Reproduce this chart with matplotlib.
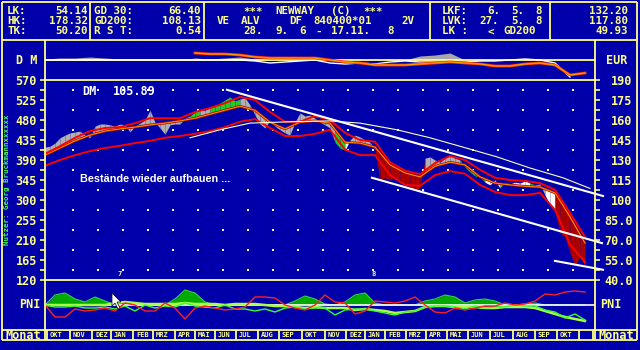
import numpy as np
import matplotlib
matplotlib.use("Agg")
import matplotlib.pyplot as plt
from matplotlib.lines import Line2D
from matplotlib.patches import Polygon
from matplotlib.ticker import FixedLocator, FuncFormatter

plt.rcParams['font.family'] = ['DejaVu Sans Mono']
plt.rcParams['font.weight'] = 'bold'

# ---------------- data ----------------
hdr_col1_labels = ['LK:', 'HK:', 'TK:']
hdr_col1_values = ['54.14', '178.32', '50.20']
hdr_col2_labels = ['GD 30:', 'GD200:', 'R S T:']
hdr_col2_values = ['66.40', '108.13', '0.54']
hdr_title_rows = [[('***', 243), ('NEWWAY', 275), ('(C)', 331), ('***', 363)],
                  [('VE', 217), ('ALV', 241), ('DF', 289), ('840400*01', 313), ('2V', 401)],
                  [('28.', 243), ('9.', 275), ('6', 299), ('-', 315), ('17.11.', 331), ('8', 387)]]
hdr_col4_labels = ['LKF:', 'LVK:', 'LK :']
hdr_col4_values = [[('6.', 487), ('5.', 511), ('8', 535)],
                   [('27.', 479), ('5.', 511), ('8', 535)],
                   [('<', 487), ('GD200', 503)]]
hdr_col5_values = ['132.20', '117.80', '49.93']

month_labels = ['OKT', 'NOV', 'DEZ', 'JAN', 'FEB', 'MRZ', 'APR', 'MAI', 'JUN', 'JUL', 'AUG', 'SEP',
                'OKT', 'NOV', 'DEZ', 'JAN', 'FEB', 'MRZ', 'APR', 'MAI', 'JUN', 'JUL', 'AUG', 'SEP', 'OKT', '']
month_start = [2, 25, 47, 66, 88, 108, 130, 150, 170, 191, 213, 234, 257, 280, 301, 320,
               340, 361, 381, 402, 423, 445, 468, 490, 512, 534]
month_end = 548
year_marks = [('7', 66), ('8', 320)]

# price (DM), one value every 5 trading days
price_step = 5
price = [419, 421, 428, 440, 446, 451, 453, 455, 446, 440,
         466, 471, 471, 469, 466, 471, 469, 453, 466, 473,
         480, 502, 475, 462, 448, 469, 471, 471, 484, 489,
         498, 502, 502, 507, 511, 518, 525, 532, 523, 527,
         530, 514, 491, 471, 462, 480, 466, 458, 451, 446,
         475, 496, 489, 491, 484, 475, 469, 462, 430, 417,
         412, 435, 446, 442, 435, 430, 414, 345, 350, 345,
         352, 340, 334, 329, 322, 327, 394, 397, 390, 385,
         394, 401, 394, 390, 374, 363, 354, 352, 340, 334,
         345, 327, 340, 336, 340, 338, 343, 338, 334, 336,
         311, 289, 277, 226, 217, 181, 154, 172, 152]
# trend signal per price step: g=neutral, G=up, w=weak, r=down
signal = ("ggggggggggggggggggggggggggggg" "GGgg" "GGGGGG" "gg" "ggggggggggggggggg"
          "GGw" "ggggg" "rrrrrrrrrr" "ggggggg" "GGGGG" "www" "GG" "wwww" "G" "gg" "ww" "rrrrrrr")

# moving average and envelope bands (DM), one value every 15 trading days
band_step = 15
ma = [401, 417, 433, 446, 455, 460, 464, 469, 473, 478, 484, 493, 502, 511, 502, 475, 460, 475, 478,
      473, 430, 428, 419, 379, 361, 352, 376, 385, 379, 352, 338, 334, 331, 329, 316, 262, 203]
upper = [404, 421, 440, 455, 462, 464, 473, 484, 484, 484, 498, 507, 518, 532, 525, 498, 476, 476, 489,
         480, 451, 435, 431, 385, 366, 358, 383, 399, 390, 368, 350, 345, 343, 338, 323, 271, 217]
lower = [377, 390, 401, 410, 417, 422, 428, 433, 440, 444, 449, 455, 464, 476, 482, 462, 444, 444, 449,
         458, 413, 401, 401, 356, 334, 332, 356, 365, 359, 334, 318, 311, 311, 316, 278, 200, 160]

gd200_day = [145, 175, 205, 245, 285, 315, 352, 385, 418, 452, 485, 518, 545]
gd200_val = [440, 458, 473, 476, 478, 473, 458, 440, 419, 397, 372, 350, 326]

trend_days = [[182, 558], [327, 557], [510, 558]]
trend_vals = [[548, 309], [350, 203], [163, 143]]

# relative strength panel (DM vs EUR), every 15 trading days
rel_gray = [1, 2, 2, 3, 2, 1, 0, 1, 1, 0, 2, 1, 2, 3, 1, 0, 0, 0, 0,
            0, 0, 0, 0, 0, 0, 4, 5, 7, 0, 0, 0, 0, 0, 0, 0, 0, 0]
rel_white = [0, 0, 0, 0, 0, 0, 0, 0, 0, 0, 0, 0, 0, 0, -1, -3, -2, -1, 0,
             -3, -4, -3, -4, -2, -1, -2, -2, -2, -2, -1, -1, 0, 1, 0, -3, -17, np.nan]
rel_orange = [np.nan] * 10 + [7, 6, 6, 5, 3, 2, 2, 2, 2,
                              0, -2, -3, -5, -5, -5, -4, -3, -2, -3, -4, -6, -6, -4, -3, -5, -15, -13]

# PNI panel, every 10 trading days
pni_step = 10
pni_fill = [0, 10, 12, 6, 3, 8, 4, 0, 0, 0, 0, 0, 0, 6, 15, 12, 3, 0, 0, 0,
            0, 0, 0, 0, 0, 4, 9, 6, 1, 0, 3, 10, 12, 2, 0, 0, 0, 0, 4, 6,
            10, 8, 2, 5, 6, 4, 0, 0, 1, 2, 0, 0, 0, 0, 0]
pni_red = [0, -12, -12, -4, -6, -5, -3, -6, 2, 0, -6, -6, 2, -3, -14, -3, -1, -3, -5, -4,
           -2, 8, 8, 7, 0, -3, -5, 0, 10, 3, 2, -9, -6, 4, 3, 2, 4, 8, 0, -7,
           -8, -3, -5, -3, -1, -1, 2, 0, 1, 4, 11, 10, 13, 14, 13]
pni_green = [0, -2, -2, -1, -3, -3, -2, -4, -1, -6, 0, -3, -1, -2, 2, -1, -2, -3, 0, -4,
             -4, -6, -4, -7, -3, -2, -4, -3, -3, -10, -5, -4, -4, -6, -8, -10, -7, -6, -2, -1,
             -1, -2, -4, -1, -3, -2, -2, 0, -1, -1, -5, -7, -13, -9, -15]
pni_lgreen = [0, 0, 0, 0, 0, 0, 0, 2, 3, 2, 1, 1, 1, 1, 2, 1, 1, 1, 0, 1,
              1, 1, 0, -1, -1, -2, -3, -2, -3, -3, -3, -5, -4, -5, -6, -8, -7, -6, -2, -1,
              -1, -2, -2, -2, -3, -3, -2, -2, -2, -3, -6, -9, -12, -14, -16]

# ---------------- style ----------------
BG = '#0000AA'
YEL = '#FFFF88'
W, H = 640, 350
XMAX = 550
HDR_FS = 7.8

fig = plt.figure(figsize=(6.4, 3.5), dpi=100, facecolor=BG)


def fx(px):
    return px / W


def fy(py):
    return 1 - py / H


def hline(y, x0, x1, color=YEL, lw=1.3):
    fig.add_artist(Line2D([fx(x0), fx(x1)], [fy(y), fy(y)], color=color, lw=lw,
                          transform=fig.transFigure, solid_capstyle='butt'))


def vline(x, y0, y1, color=YEL, lw=1.3):
    fig.add_artist(Line2D([fx(x), fx(x)], [fy(y0), fy(y1)], color=color, lw=lw,
                          transform=fig.transFigure, solid_capstyle='butt'))


def ftext(x, y, s, ha='left', size=8.5, color=YEL, **kw):
    fig.text(fx(x), fy(y), s, ha=ha, va='center', fontsize=size, color=color, **kw)


# frame
for y in (2, 40, 330, 340):
    hline(y, 2, 637)
for x in (2, 637):
    vline(x, 2, 340)
for x in (90, 204, 430, 550):
    vline(x, 2, 40)
for x in (45, 595):
    vline(x, 40, 340)
hline(80, 45, 595)
hline(280, 45, 595)

# header
rows_y = [11.5, 21.5, 31.5]
for i, y in enumerate(rows_y):
    ftext(7, y, hdr_col1_labels[i], size=HDR_FS)
    ftext(88, y, hdr_col1_values[i], ha='right', size=HDR_FS)
    ftext(94, y, hdr_col2_labels[i], size=HDR_FS)
    ftext(201, y, hdr_col2_values[i], ha='right', size=HDR_FS)
    for tok, x in hdr_title_rows[i]:
        ftext(x, y, tok, size=HDR_FS)
    ftext(442, y, hdr_col4_labels[i], size=HDR_FS)
    for tok, x in hdr_col4_values[i]:
        ftext(x, y, tok, size=HDR_FS)
    ftext(628, y, hdr_col5_values[i], ha='right', size=HDR_FS)

# side labels
ftext(27, 60, 'D M', ha='center')
ftext(617, 60, 'EUR', ha='center')
ftext(30, 305, 'PNI', ha='center')
ftext(611, 305, 'PNI', ha='center')
ftext(23.5, 335.5, 'Monat', ha='center', size=8.6)
ftext(616, 335.5, 'Monat', ha='center', size=8.6)
fig.text(fx(7), fy(180), 'Nutzer: Georg Bruckmannxxxxxx', rotation=90, ha='center', va='center',
         fontsize=5.3, color='#44FF44')

main_w = fx(595) - fx(45)

# ---------------- top relative panel ----------------
axT = fig.add_axes([fx(45), fy(80), main_w, 40 / H])
axT.set_xlim(0, XMAX)
axT.set_ylim(-20, 20)
axT.axis('off')
day_t = np.arange(len(rel_gray)) * band_step
axT.fill_between(day_t, 0, rel_gray, color='#A8A8A8', lw=0, zorder=1)
axT.axhline(0, color=YEL, lw=1.3, zorder=2)
axT.plot(day_t, rel_white, color='white', lw=1.0, zorder=3)
axT.plot(day_t, rel_orange, color='#FF3300', lw=2.0, zorder=4)
axT.plot(day_t, rel_orange, color='#FF9900', lw=0.9, zorder=5)

# ---------------- main price panel ----------------
ax = fig.add_axes([fx(45), fy(280), main_w, 200 / H])
ax.set_facecolor('none')
ax.set_xlim(0, XMAX)
ax.set_ylim(120, 570)
for s in ax.spines.values():
    s.set_visible(False)
ax.set_xticks([])
ax.yaxis.set_major_locator(FixedLocator(np.arange(120, 571, 45)))
ax.yaxis.set_minor_locator(FixedLocator(np.arange(142.5, 570, 45)))
ax.yaxis.set_major_formatter(FuncFormatter(lambda v, p: f'{v:.0f}'))
ax.tick_params(axis='y', which='both', left=True, right=False, direction='out', length=3.6,
               width=1.2, color=YEL, labelcolor=YEL, labelsize=8.5, pad=2.2)

ax2 = ax.twinx()
ax2.set_ylim(40, 190)
for s in ax2.spines.values():
    s.set_visible(False)
ax2.yaxis.set_major_locator(FixedLocator(np.arange(40, 191, 15)))
ax2.yaxis.set_minor_locator(FixedLocator(np.arange(47.5, 190, 15)))
ax2.yaxis.set_major_formatter(FuncFormatter(lambda v, p: f'{v:.0f}' if v >= 100 else f'{v:.1f}'))
ax2.tick_params(axis='y', which='both', right=True, left=False, direction='out', length=3.6,
                width=1.2, color=YEL, labelcolor=YEL, labelsize=8.5, pad=23.5)
for t in ax2.yaxis.get_major_ticks():
    t.label2.set_horizontalalignment('right')

# grid dots
gx, gy = np.meshgrid(np.arange(28, 540, 25), np.arange(547.5, 130, -45))
ax.scatter(gx.ravel(), gy.ravel(), s=1.6, c='white', marker='s', linewidths=0, zorder=1)

day_p = np.arange(len(price)) * price_step
day_b = np.arange(len(ma)) * band_step
ma_p = np.interp(day_p, day_b, ma)
sig_col = {'g': '#B0B0B0', 'G': '#22CC22', 'w': '#FFFFFF', 'r': '#AA0000'}
for i in range(len(price) - 1):
    ax.fill_between(day_p[i:i + 2], price[i:i + 2], ma_p[i:i + 2], color=sig_col[signal[i]],
                    lw=0, zorder=2)

ax.plot(day_b, ma, color='#AA0000', lw=1.8, zorder=3)
ax.plot(day_b, ma, color='#FF8C00', lw=0.8, zorder=3)
ax.plot(day_b, upper, color='#FF0000', lw=1.4, zorder=4)
ax.plot(day_b, lower, color='#FF0000', lw=1.4, zorder=4)
ax.plot(gd200_day, gd200_val, color='#FFFFC8', lw=0.8, zorder=5)
for d, v in zip(trend_days, trend_vals):
    ax.plot(d, v, color='white', lw=1.5, zorder=6, clip_on=False)

ax.text(month_start[0] + 35, 544, 'DM', color='white', fontsize=8.5, va='center')
ax.text(month_start[0] + 66, 544, '105.89', color='white', fontsize=8.5, va='center')
ax.text(month_start[0] + 33, 347, 'Bestände wieder aufbauen ...', color='white', fontsize=7.8,
        va='center', family='Liberation Sans', fontweight='bold')
for lab, d in year_marks:
    ax.text(d + 6, 133, lab, color=YEL, fontsize=5, va='center', ha='left')

# ---------------- PNI panel ----------------
axP = fig.add_axes([fx(45), fy(329), main_w, 48 / H])
axP.set_xlim(0, XMAX)
axP.set_ylim(-24, 24)
axP.axis('off')
day_n = np.arange(len(pni_red)) * pni_step
axP.fill_between(day_n, 0, pni_fill, color='#00AA00', lw=0, zorder=1)
axP.plot(day_n, pni_fill, color='#33DD33', lw=0.8, zorder=1)
axP.axhline(0, color='white', lw=1.2, zorder=2)
axP.plot(day_n, pni_lgreen, color='#AAFF44', lw=1.8, zorder=3)
axP.plot(day_n, pni_green, color='#33FF33', lw=1.0, zorder=4)
axP.plot(day_n, pni_red, color='#FF2020', lw=1.0, zorder=5)

# mouse pointer drawn on screen (decoration)
cursor_px = [(112, 293), (112, 306), (115, 303), (118, 309), (120, 308), (117, 302), (121, 302)]
fig.add_artist(Polygon([(fx(x), fy(y)) for x, y in cursor_px], closed=True, transform=fig.transFigure,
                       facecolor='white', edgecolor='black', lw=0.5, zorder=10))

# ---------------- month strip ----------------
axM = fig.add_axes([fx(45), fy(340), main_w, 10 / H])
axM.set_xlim(0, XMAX)
axM.set_ylim(0, 1)
axM.axis('off')
axM.vlines(month_start + [month_end], 0, 1, color=YEL, lw=1.3)
for lab, d in zip(month_labels, month_start):
    axM.text(d + 3, 0.5, lab, color=YEL, fontsize=5, va='center', ha='left')

fig.savefig('out.png', dpi=100, facecolor=BG)
